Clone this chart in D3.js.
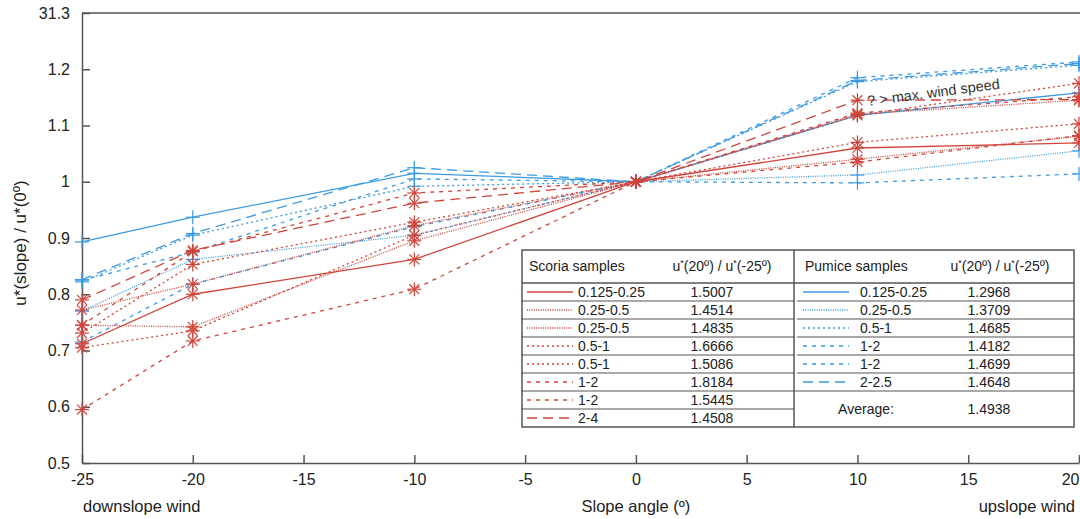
<!DOCTYPE html>
<html>
<head>
<meta charset="utf-8">
<script src="https://cdn.jsdelivr.net/npm/d3@7"></script>
<style>
  body { margin: 0; background: #fff; }
  svg { font-family: "Liberation Sans", Arial, sans-serif; }
</style>
</head>
<body>
<div id="chart"></div>
<script>
// slope angles where the ratios were measured
var angles = [-25, -20, -10, 0, 10, 20];

// scoria samples (red, asterisk)
var scoriaLabels = ["0.125-0.25", "0.25-0.5", "0.25-0.5", "0.5-1", "0.5-1", "1-2", "1-2", "2-4"];
var scoriaRatios = ["1.5007", "1.4514", "1.4835", "1.6666", "1.5086", "1.8184", "1.5445", "1.4508"];
var scoriaValues = [
    [0.712, 0.800, 0.862, 1, 1.060, 1.069],
    [0.745, 0.742, 0.895, 1, 1.040, 1.081],
    [0.772, 0.818, 0.922, 1, 1.120, 1.145],
    [0.705, 0.735, 0.905, 1, 1.118, 1.175],
    [0.731, 0.853, 0.928, 1, 1.070, 1.103],
    [0.595, 0.717, 0.809, 1, 1.035, 1.082],
    [0.745, 0.876, 0.980, 1, 1.122, 1.151],
    [0.790, 0.878, 0.962, 1, 1.145, 1.146]
];

// pumice samples (blue, plus)
var pumiceLabels = ["0.125-0.25", "0.25-0.5", "0.5-1", "1-2", "1-2", "2-2.5"];
var pumiceRatios = ["1.2968", "1.3709", "1.4685", "1.4182", "1.4699", "1.4648"];
var pumiceValues = [
    [0.893, 0.937, 1.015, 1, 1.118, 1.158],
    [0.770, 0.862, 0.905, 1, 1.012, 1.055],
    [0.822, 0.905, 0.992, 1, 1.178, 1.207],
    [0.715, 0.818, 0.920, 1, 0.998, 1.014],
    [0.825, 0.875, 1.005, 1, 1.185, 1.213],
    [0.826, 0.908, 1.025, 1, 1.180, 1.210]
];
var averageRatio = "1.4938";

var xTicks = [-25, -20, -15, -10, -5, 0, 5, 10, 15, 20];
var yTicks = [0.5, 0.6, 0.7, 0.8, 0.9, 1, 1.1, 1.2, 1.3];
var yTickLabels = ["0.5", "0.6", "0.7", "0.8", "0.9", "1", "1.1", "1.2", "31.3"];

// dash styles per line
var scoriaDash = [null, "1,1.3", "1,1.3", "2,3", "2,3", "4,5", "4,5", "10,6"];
var pumiceDash = [null, "1,1.3", "2,3", "4,5", "4,5", "10,6"];

var red = "#d0453b";
var blue = "#3d9be0";
var ink = "#222";

var width = 1080, height = 519;
var svg = d3.select("#chart").append("svg").attr("width", width).attr("height", height);

var x = d3.scaleLinear().domain([-25, 20]).range([82, 1079]);
var y = d3.scaleLinear().domain([0.5, 1.3]).range([463, 13]);

// axes
var xAxis = d3.axisBottom(x).tickValues(xTicks).tickSizeInner(-8).tickSizeOuter(0).tickPadding(11)
    .tickFormat(function (d) { return String(d); });
var gx = svg.append("g").attr("transform", "translate(0," + y(0.5) + ")").call(xAxis);
gx.selectAll("text").attr("font-size", 16).attr("fill", ink);
gx.selectAll(".tick").filter(function (d) { return d === 20; }).select("text")
    .attr("text-anchor", "end").attr("x", 0);

var yAxis = d3.axisLeft(y).tickValues(yTicks).tickSizeInner(-8).tickSizeOuter(0).tickPadding(12)
    .tickFormat(function (d, i) { return yTickLabels[i]; });
var gy = svg.append("g").attr("transform", "translate(" + x(-25) + ",0)").call(yAxis);
gy.selectAll("text").attr("font-size", 16).attr("fill", ink);

svg.selectAll(".domain, .tick line").attr("stroke", "#555").attr("stroke-width", 1.5);

svg.append("line")
    .attr("x1", x(-25)).attr("x2", width).attr("y1", y(1.3)).attr("y2", y(1.3))
    .attr("stroke", "#555").attr("stroke-width", 1.5);

// axis titles
svg.append("text").attr("x", 83).attr("y", 512).attr("font-size", 16.5).attr("fill", ink).text("downslope wind");
svg.append("text").attr("x", x(0)).attr("y", 512).attr("text-anchor", "middle").attr("font-size", 16.5).attr("fill", ink).text("Slope angle (º)");
svg.append("text").attr("x", 1075).attr("y", 512).attr("text-anchor", "end").attr("font-size", 16.5).attr("fill", ink).text("upslope wind");
svg.append("text").attr("transform", "translate(26,243) rotate(-90)").attr("text-anchor", "middle")
    .attr("font-size", 17).attr("fill", ink).text("u*(slope) / u*(0º)");

var line = d3.line().x(function (d, i) { return x(angles[i]); }).y(function (d) { return y(d); });

function drawSeries(values, dashes, color, marker) {
    var g = svg.append("g");
    values.forEach(function (vals, k) {
        g.append("path").datum(vals).attr("d", line)
            .attr("fill", "none").attr("stroke", color).attr("stroke-width", 1.3)
            .attr("stroke-dasharray", dashes[k]);
        var pts = g.selectAll(null).data(vals).enter().append("g")
            .attr("transform", function (d, i) { return "translate(" + x(angles[i]) + "," + y(d) + ")"; })
            .attr("stroke", color).attr("stroke-width", 1.2);
        if (marker === "star") {
            [0, 45, 90, 135].forEach(function (a) {
                pts.append("line").attr("x1", -7).attr("x2", 7).attr("transform", "rotate(" + a + ")");
            });
        } else {
            pts.append("line").attr("x1", -7).attr("x2", 7);
            pts.append("line").attr("y1", -7).attr("y2", 7);
        }
    });
}
drawSeries(pumiceValues, pumiceDash, blue, "plus");
drawSeries(scoriaValues, scoriaDash, red, "star");

svg.append("text").attr("transform", "translate(868,106) rotate(-7.5)")
    .attr("font-size", 14.5).attr("fill", "#333").text("? > max. wind speed");

// legend table
var tb = { left: 522, mid: 794, right: 1074, top: 250, head: 283, bottom: 427 };
var rowH = (tb.bottom - tb.head) / 8;
var fs = 14;
var legend = svg.append("g");
legend.append("rect").attr("x", tb.left).attr("y", tb.top).attr("width", tb.right - tb.left).attr("height", tb.bottom - tb.top)
    .attr("fill", "#fff").attr("stroke", "#555").attr("stroke-width", 1.5);
legend.append("line").attr("x1", tb.mid).attr("x2", tb.mid).attr("y1", tb.top).attr("y2", tb.bottom).attr("stroke", "#555").attr("stroke-width", 1.5);
legend.append("line").attr("x1", tb.left).attr("x2", tb.right).attr("y1", tb.head).attr("y2", tb.head).attr("stroke", "#555").attr("stroke-width", 1.5);

function header(x0, name, cx) {
    legend.append("text").attr("x", x0).attr("y", tb.top + 21).attr("font-size", fs).attr("fill", ink).text(name);
    var t = legend.append("text").attr("x", cx).attr("y", tb.top + 21).attr("text-anchor", "middle").attr("font-size", fs).attr("fill", ink);
    t.append("tspan").text("u");
    t.append("tspan").attr("font-size", 9).attr("dy", -5).text("*");
    t.append("tspan").attr("dy", 5).text("(20º) / u");
    t.append("tspan").attr("font-size", 9).attr("dy", -5).text("*");
    t.append("tspan").attr("dy", 5).text("(-25º)");
}
header(529, "Scoria samples", 722);
header(805, "Pumice samples", 1000);

function rows(labels, ratios, dashes, color, x0, xLabel, xVal, xEnd) {
    labels.forEach(function (lab, i) {
        var yc = tb.head + rowH * (i + 0.5);
        if (i > 0) {
            legend.append("line").attr("x1", x0 - 6).attr("x2", xEnd).attr("y1", tb.head + rowH * i).attr("y2", tb.head + rowH * i)
                .attr("stroke", "#555").attr("stroke-width", 1);
        }
        legend.append("line").attr("x1", x0).attr("x2", x0 + 46).attr("y1", yc).attr("y2", yc)
            .attr("stroke", color).attr("stroke-width", 1.3).attr("stroke-dasharray", dashes[i]);
        legend.append("text").attr("x", xLabel).attr("y", yc + 5).attr("font-size", fs).attr("fill", ink).text(lab);
        legend.append("text").attr("x", xVal).attr("y", yc + 5).attr("text-anchor", "middle").attr("font-size", fs).attr("fill", ink).text(ratios[i]);
    });
}
rows(scoriaLabels, scoriaRatios, scoriaDash, red, 527, 578, 712, tb.mid);
rows(pumiceLabels, pumiceRatios, pumiceDash, blue, 803, 860, 989, tb.right);
legend.append("line").attr("x1", tb.mid).attr("x2", tb.right).attr("y1", tb.head + rowH * 6).attr("y2", tb.head + rowH * 6)
    .attr("stroke", "#555").attr("stroke-width", 1);
legend.append("text").attr("x", 866).attr("y", tb.head + rowH * 7 + 5).attr("text-anchor", "middle").attr("font-size", fs).attr("fill", ink).text("Average:");
legend.append("text").attr("x", 989).attr("y", tb.head + rowH * 7 + 5).attr("text-anchor", "middle").attr("font-size", fs).attr("fill", ink).text(averageRatio);
</script>
</body>
</html>
